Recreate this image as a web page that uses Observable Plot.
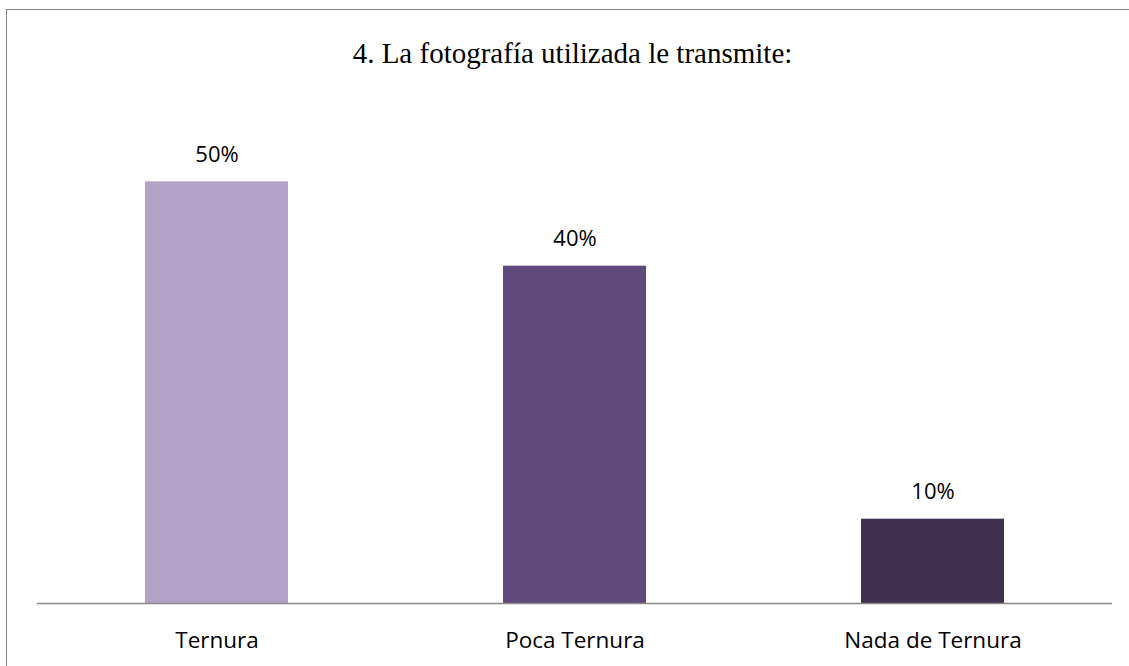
<!DOCTYPE html>
<html>
<head>
<meta charset="utf-8">
<script src="https://cdn.jsdelivr.net/npm/d3@7"></script>
<script src="https://cdn.jsdelivr.net/npm/@observablehq/plot@0.6"></script>
<style>
  html, body { margin: 0; padding: 0; background: #fff; }
  #wrap { position: relative; width: 1129px; height: 666px; overflow: hidden; }
  #frame { position: absolute; left: 6px; top: 9px; width: 1200px; height: 700px;
           border-left: 1.5px solid #888; border-top: 1.5px solid #888; pointer-events: none; }
  #title { height: 90px; box-sizing: border-box; padding-top: 39px; padding-left: 16px;
           text-align: center; font-family: "Liberation Serif", "Times New Roman", serif;
           font-size: 29px; line-height: 29px; color: #000; }
  svg { display: block; }
</style>
</head>
<body>
<div id="wrap">
  <div id="title">4. La fotografía utilizada le transmite:</div>
  <div id="chart"></div>
  <div id="frame"></div>
</div>
<script>
const categories = ["Ternura", "Poca Ternura", "Nada de Ternura"];
const values = [0.50, 0.40, 0.10];
const valueLabels = ["50%", "40%", "10%"];
const colors = ["#B3A2C7", "#604A7B", "#403151"];

const data = categories.map((c, i) => ({cat: c, value: values[i], label: valueLabels[i]}));

const plot = Plot.plot({
  width: 1129,
  height: 576,
  marginLeft: 37,
  marginRight: 17,
  marginTop: 7,
  marginBottom: 63,
  style: {fontFamily: "'Open Sans', sans-serif", color: "#000", background: "transparent"},
  x: {domain: categories, paddingInner: 0.6, paddingOuter: 0.3, label: null},
  y: {domain: [0, 0.6], axis: null},
  color: {domain: categories, range: colors},
  marks: [
    Plot.barY(data, {x: "cat", y: "value", fill: "cat"}),
    Plot.ruleY([0], {stroke: "#888", strokeWidth: 1.5}),
    Plot.text(data, {x: "cat", y: "value", text: "label", dy: -20, lineAnchor: "bottom",
                     fontSize: 22, fill: "#000"}),
    Plot.axisX({tickSize: 0, tickPadding: 29, fontSize: 22.5, label: null, fill: "#000"})
  ]
});
document.getElementById("chart").appendChild(plot);
</script>
</body>
</html>
